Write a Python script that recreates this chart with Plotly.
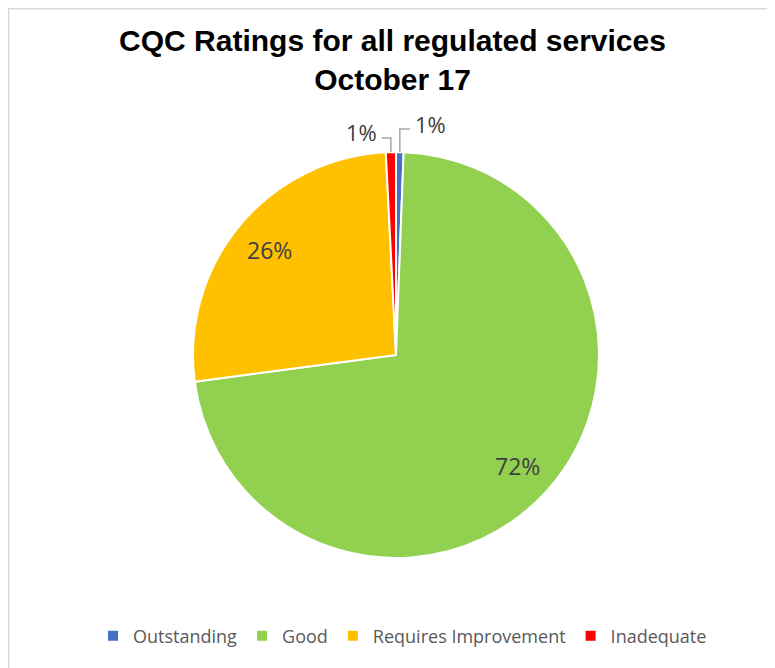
import math
import plotly.graph_objects as go

# ---- data ----
categories = ["Outstanding", "Good", "Requires Improvement", "Inadequate"]
values = [0.6, 72.3, 26.3, 0.8]
colors = ["#4472C4", "#92D050", "#FFC000", "#FF0000"]
title_lines = ["CQC Ratings for all regulated services", "October 17"]

# ---- geometry (figure pixels; page body adds an 8px offset) ----
W_FIG, H_FIG = 767, 660
ML, MR, MT, MB = 12, 3, 144, 110
PW, PH = W_FIG - ML - MR, H_FIG - MT - MB
CX, CY = ML + PW / 2, MT + PH / 2
R = min(PW, PH) / 2
LABEL_R = 0.81 * R

def px2x(px):
    return (px - ML) / PW

def px2y(py):
    return 1 - (py - MT) / PH

total = sum(values)

fig = go.Figure(go.Pie(
    labels=categories,
    values=values,
    sort=False,
    direction="clockwise",
    rotation=0,
    marker=dict(colors=colors, line=dict(color="white", width=2)),
    textinfo="none",
    hoverinfo="label+percent",
    showlegend=True,
))

label_font = dict(family="Open Sans", size=23, color="#404040")
shapes = []
annotations = []
cum = 0.0
for v in values:
    frac = v / total
    mid = (cum + v / 2) / total
    cum += v
    ang = mid * 2 * math.pi
    txt = f"{round(100 * frac):.0f}%"
    if frac >= 0.05:
        annotations.append(dict(
            x=px2x(CX + LABEL_R * math.sin(ang)),
            y=px2y(CY - LABEL_R * math.cos(ang)),
            xref="paper", yref="paper", text=txt, showarrow=False,
            xanchor="center", yanchor="middle", font=label_font,
        ))
        continue
    # small slice: label outside with elbow leader line
    ex = CX + R * math.sin(ang)
    ey = CY - R * math.cos(ang)
    right = math.sin(ang) >= 0
    rise = 23 if right else 14
    run = 10 if right else -9
    ty = CY - R - rise
    tx = ex + run
    shapes.append(dict(
        type="path", xref="paper", yref="paper",
        path=f"M {px2x(ex)},{px2y(ey)} L {px2x(ex)},{px2y(ty)} L {px2x(tx)},{px2y(ty)}",
        line=dict(color="#A6A6A6", width=1.5),
    ))
    annotations.append(dict(
        x=px2x(tx + (3 if right else -3)), y=px2y(ty - (5 if right else 6)),
        xref="paper", yref="paper", text=txt, showarrow=False,
        xanchor="left" if right else "right", yanchor="middle",
        font=dict(family="Open Sans", size=22, color="#404040"),
    ))

# outer chart frame
shapes.append(dict(
    type="rect", xref="paper", yref="paper", layer="below",
    x0=px2x(0.75), x1=px2x(766), y0=px2y(664), y1=px2y(0.75),
    line=dict(color="#D9D9D9", width=1.5), fillcolor="rgba(0,0,0,0)",
))

fig.update_layout(
    width=W_FIG, height=H_FIG,
    margin=dict(l=ML, r=MR, t=MT, b=MB),
    paper_bgcolor="white",
    plot_bgcolor="white",
    title=dict(
        text="<b>" + "<br>".join(title_lines) + "</b>",
        x=384.5 / W_FIG, xref="container", xanchor="center",
        y=1 - 43 / H_FIG, yref="container", yanchor="top",
        font=dict(family="Liberation Sans", size=30, color="black"),
    ),
    legend=dict(
        orientation="h",
        x=px2x(394.5), xanchor="center",
        y=px2y(628), yanchor="middle",
        font=dict(family="Open Sans", size=18, color="#595959"),
        itemwidth=30,
    ),
    shapes=shapes,
    annotations=annotations,
)

fig.write_html("out.html")
